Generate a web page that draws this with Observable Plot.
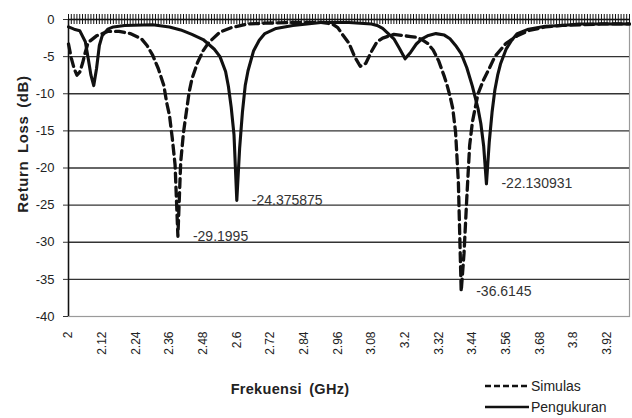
<!DOCTYPE html>
<html><head><meta charset="utf-8">
<script src="https://cdn.jsdelivr.net/npm/d3@7"></script>
<script src="https://cdn.jsdelivr.net/npm/@observablehq/plot@0.6"></script>
<style>
body{margin:0;background:#fff;}
#wrap{position:relative;width:632px;height:418px;background:#fff;font-family:"Liberation Sans",Arial,sans-serif;color:#222;overflow:hidden;}
.abs{position:absolute;white-space:nowrap;}
</style>
</head><body>
<div id="wrap"></div>
<script>
// ---- data ----
const xTickLabels = ["2","2.12","2.24","2.36","2.48","2.6","2.72","2.84","2.96","3.08","3.2","3.32","3.44","3.56","3.68","3.8","3.92"];
const yTicks = [0,-5,-10,-15,-20,-25,-30,-35,-40];
const xDomain = [2, 4];
const yDomain = [-40, 0];

// Simulasi (dashed)
const simFreq = [2.00,2.01,2.02,2.03,2.04,2.05,2.06,2.07,2.10,2.14,2.18,2.22,2.26,2.28,2.30,2.32,2.34,2.35,2.36,2.37,2.38,2.39,2.40,2.41,2.42,2.43,2.44,2.46,2.48,2.50,2.54,2.58,2.64,2.70,2.80,2.90,2.94,2.96,2.98,3.00,3.02,3.04,3.06,3.08,3.10,3.12,3.16,3.20,3.22,3.24,3.26,3.28,3.30,3.32,3.34,3.35,3.36,3.37,3.38,3.39,3.40,3.41,3.42,3.43,3.44,3.46,3.48,3.50,3.52,3.56,3.60,3.64,3.70,3.76,3.84,3.90,4.00];
const simDb   = [-3.3,-5.2,-6.6,-7.5,-7.1,-5.9,-4.4,-3.1,-2.2,-1.6,-1.6,-1.9,-2.6,-3.5,-4.8,-6.6,-8.9,-11.2,-12.9,-16.0,-19.6,-29.1995,-19.2,-15.2,-12.5,-9.8,-8.0,-5.8,-4.2,-3.1,-1.7,-1.1,-0.6,-0.5,-0.4,-0.4,-0.6,-1.1,-2.2,-3.2,-5.0,-6.3,-5.9,-4.3,-3.0,-2.5,-2.0,-2.2,-2.3,-2.4,-2.7,-3.2,-4.1,-5.6,-7.7,-8.9,-10.3,-12.0,-15.2,-22.0,-36.6145,-31.5,-24.0,-17.0,-13.8,-10.0,-8.1,-6.6,-5.0,-3.2,-2.2,-1.5,-1.0,-0.8,-0.7,-0.6,-0.6];

// Pengukuran (solid)
const measFreq = [2.00,2.02,2.04,2.06,2.07,2.08,2.09,2.10,2.11,2.12,2.14,2.16,2.20,2.30,2.36,2.40,2.44,2.48,2.52,2.54,2.56,2.57,2.58,2.59,2.60,2.61,2.62,2.63,2.64,2.66,2.68,2.70,2.74,2.80,2.90,3.00,3.08,3.10,3.12,3.14,3.16,3.18,3.20,3.22,3.24,3.26,3.28,3.31,3.34,3.36,3.38,3.40,3.42,3.44,3.46,3.47,3.48,3.49,3.50,3.51,3.52,3.53,3.54,3.56,3.58,3.60,3.64,3.70,3.76,3.82,3.90,4.00];
const measDb   = [-1.0,-1.3,-1.5,-3.0,-5.2,-7.5,-8.9,-6.6,-3.5,-2.2,-1.3,-1.0,-0.8,-0.7,-1.0,-1.4,-2.0,-2.7,-4.0,-5.0,-7.0,-9.0,-11.8,-15.5,-24.375875,-17.4,-12.5,-8.9,-6.9,-4.2,-2.8,-1.9,-1.2,-0.8,-0.4,-0.4,-0.6,-0.8,-1.2,-1.9,-2.6,-3.9,-5.3,-4.4,-3.3,-2.6,-2.2,-1.9,-2.1,-2.6,-3.5,-4.6,-6.5,-9.0,-12.0,-14.0,-17.0,-22.130931,-16.5,-12.5,-9.5,-7.5,-6.0,-4.0,-2.8,-1.9,-1.3,-0.9,-0.8,-0.6,-0.6,-0.6];

// labelled minima
const peakFreq = [2.39, 2.60, 3.40, 3.49];
const peakDb   = [-29.1995, -24.375875, -36.6145, -22.130931];
const peakText = ["-29.1995", "-24.375875", "-36.6145", "-22.130931"];

const seriesNames = ["Simulas", "Pengukuran"];
const xTitle = "Frekuensi (GHz)";
const yTitle = "Return Loss (dB)";

// ---- build ----
const sim = simFreq.map((f,i)=>({f, v: simDb[i]}));
const meas = measFreq.map((f,i)=>({f, v: measDb[i]}));
const peaks = peakFreq.map((f,i)=>({f, v: peakDb[i], t: peakText[i]}));
const xTickVals = xTickLabels.map(Number);
const categoryTicks = d3.range(200 + 1).map(i => xDomain[0] + i * 0.01);
const gridVals = yTicks.filter(d => d !== 0 && d !== -40);

const chart = Plot.plot({
  width: 632, height: 418,
  marginLeft: 68, marginRight: 3, marginTop: 19, marginBottom: 102,
  x: {domain: xDomain},
  y: {domain: yDomain},
  style: {fontFamily: "'Liberation Sans', Arial, sans-serif", fontSize: "13px", color: "#222", background: "transparent", overflow: "visible"},
  marks: [
    Plot.frame({stroke: "#9a9a9a", strokeWidth: 1.2}),
    Plot.ruleY(gridVals, {stroke: "#333", strokeWidth: 1.3}),
    Plot.ruleX(categoryTicks, {x: d => d, y1: 0, y2: 0, insetTop: -5, insetBottom: -5, stroke: "#111", strokeWidth: 1}),
    Plot.ruleY([yDomain[1]], {stroke: "#111", strokeWidth: 1.5}),
    Plot.ruleX([xDomain[0]], {stroke: "#111", strokeWidth: 1.5}),
    Plot.axisY({ticks: yTicks, tickFormat: d => String(d), tickSize: 5, tickPadding: 9, fontSize: 13, label: null, stroke: "#333"}),
    Plot.axisX({ticks: xTickVals, tickFormat: d => xTickLabels[xTickVals.indexOf(d)], tickRotate: -90, tickSize: 0, tickPadding: 15, fontSize: 12, label: null}),
    Plot.line(sim, {x: "f", y: "v", stroke: "#111", strokeWidth: 3.3, strokeDasharray: "9,5", strokeLinejoin: "round"}),
    Plot.line(meas, {x: "f", y: "v", stroke: "#111", strokeWidth: 3.1, strokeLinejoin: "round"}),
    Plot.text(peaks, {x: "f", y: "v", text: "t", dx: 15, textAnchor: "start", fontSize: 14, fill: "#333"})
  ]
});

const wrap = document.getElementById("wrap");
chart.style.position = "absolute";
chart.style.left = "0px";
chart.style.top = "0px";
wrap.appendChild(chart);

function addText(txt, css) {
  const d = document.createElement("div");
  d.className = "abs";
  d.textContent = txt;
  Object.assign(d.style, css);
  wrap.appendChild(d);
  return d;
}
// axis titles
addText(yTitle, {left: "22px", top: "144px", transform: "translate(-50%,-50%) rotate(-90deg)", fontWeight: "bold", fontSize: "15px", letterSpacing: "0.6px", wordSpacing: "3px"});
addText(xTitle, {left: "290px", top: "389px", transform: "translate(-50%,-50%)", fontWeight: "bold", fontSize: "14.5px", letterSpacing: "0.3px", wordSpacing: "3px"});

// legend
const ns = "http://www.w3.org/2000/svg";
const legendStyles = [{dash: "6,3"}, {dash: null}];
const legendY = [386, 407];
seriesNames.forEach((name, i) => {
  const svg = document.createElementNS(ns, "svg");
  svg.setAttribute("width", "46"); svg.setAttribute("height", "8");
  svg.style.position = "absolute"; svg.style.left = "484px"; svg.style.top = (legendY[i] - 4) + "px";
  const ln = document.createElementNS(ns, "line");
  ln.setAttribute("x1", "1"); ln.setAttribute("x2", "45"); ln.setAttribute("y1", "4"); ln.setAttribute("y2", "4");
  ln.setAttribute("stroke", "#111"); ln.setAttribute("stroke-width", "2.5");
  if (legendStyles[i].dash) ln.setAttribute("stroke-dasharray", legendStyles[i].dash);
  svg.appendChild(ln);
  wrap.appendChild(svg);
  addText(name, {left: "531px", top: legendY[i] + "px", transform: "translateY(-50%)", fontSize: "14px"});
});
</script>
</body></html>
